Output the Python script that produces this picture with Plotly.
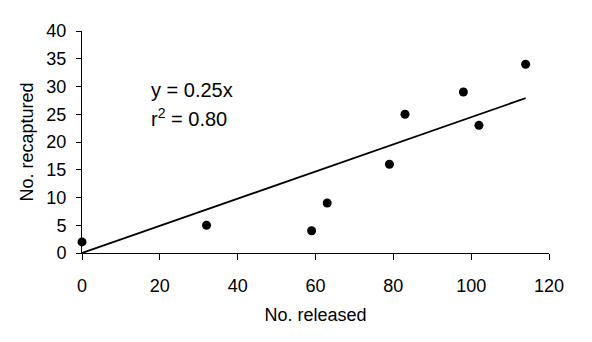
import numpy as np
import plotly.graph_objects as go

released = [0, 32, 59, 63, 79, 83, 98, 102, 114]
recaptured = [2, 5, 4, 9, 16, 25, 29, 23, 34]
eq_label = "y = 0.25x"
r2_label = "r<sup>2</sup> = 0.80"
x_ticks = [0, 20, 40, 60, 80, 100, 120]
y_ticks = [0, 5, 10, 15, 20, 25, 30, 35, 40]

xa = np.array(released, dtype=float)
ya = np.array(recaptured, dtype=float)
slope = float((xa * ya).sum() / (xa * xa).sum())
fit_x = [0, max(released)]
fit_y = [slope * v for v in fit_x]

font = "Liberation Sans, Arial, sans-serif"

fig = go.Figure()
fig.add_trace(go.Scatter(x=fit_x, y=fit_y, mode="lines",
                         line=dict(color="black", width=1.8),
                         cliponaxis=False, showlegend=False))
fig.add_trace(go.Scatter(x=released, y=recaptured, mode="markers",
                         marker=dict(color="black", size=9),
                         cliponaxis=False, showlegend=False))

fig.add_annotation(x=17.3, y=29.4, xref="x", yref="y", text=eq_label,
                   showarrow=False, xanchor="left", yanchor="middle",
                   font=dict(family=font, size=20, color="black"))
fig.add_annotation(x=17.3, y=24.4, xref="x", yref="y", text=r2_label,
                   showarrow=False, xanchor="left", yanchor="middle",
                   font=dict(family=font, size=20, color="black"))

fig.update_layout(
    width=592, height=342,
    margin=dict(l=82, r=43, t=31, b=89),
    paper_bgcolor="white", plot_bgcolor="white",
    font=dict(family=font, size=18, color="black"),
    xaxis=dict(range=[0, 120], tickvals=x_ticks, showgrid=False, zeroline=False,
               showline=True, linecolor="black", linewidth=1,
               ticks="outside", ticklen=6, tickcolor="black", tickwidth=1,
               ticklabelstandoff=10,
               tickfont=dict(family=font, size=18),
               title=dict(text="No. released", standoff=13,
                          font=dict(family=font, size=18))),
    yaxis=dict(range=[0, 40], tickvals=y_ticks, showgrid=False, zeroline=False,
               showline=True, linecolor="black", linewidth=1,
               ticks="outside", ticklen=5, tickcolor="black", tickwidth=1,
               ticklabelstandoff=6,
               tickfont=dict(family=font, size=18),
               title=dict(text="No. recaptured", standoff=8,
                          font=dict(family=font, size=18))),
)

fig.write_html("out.html")
